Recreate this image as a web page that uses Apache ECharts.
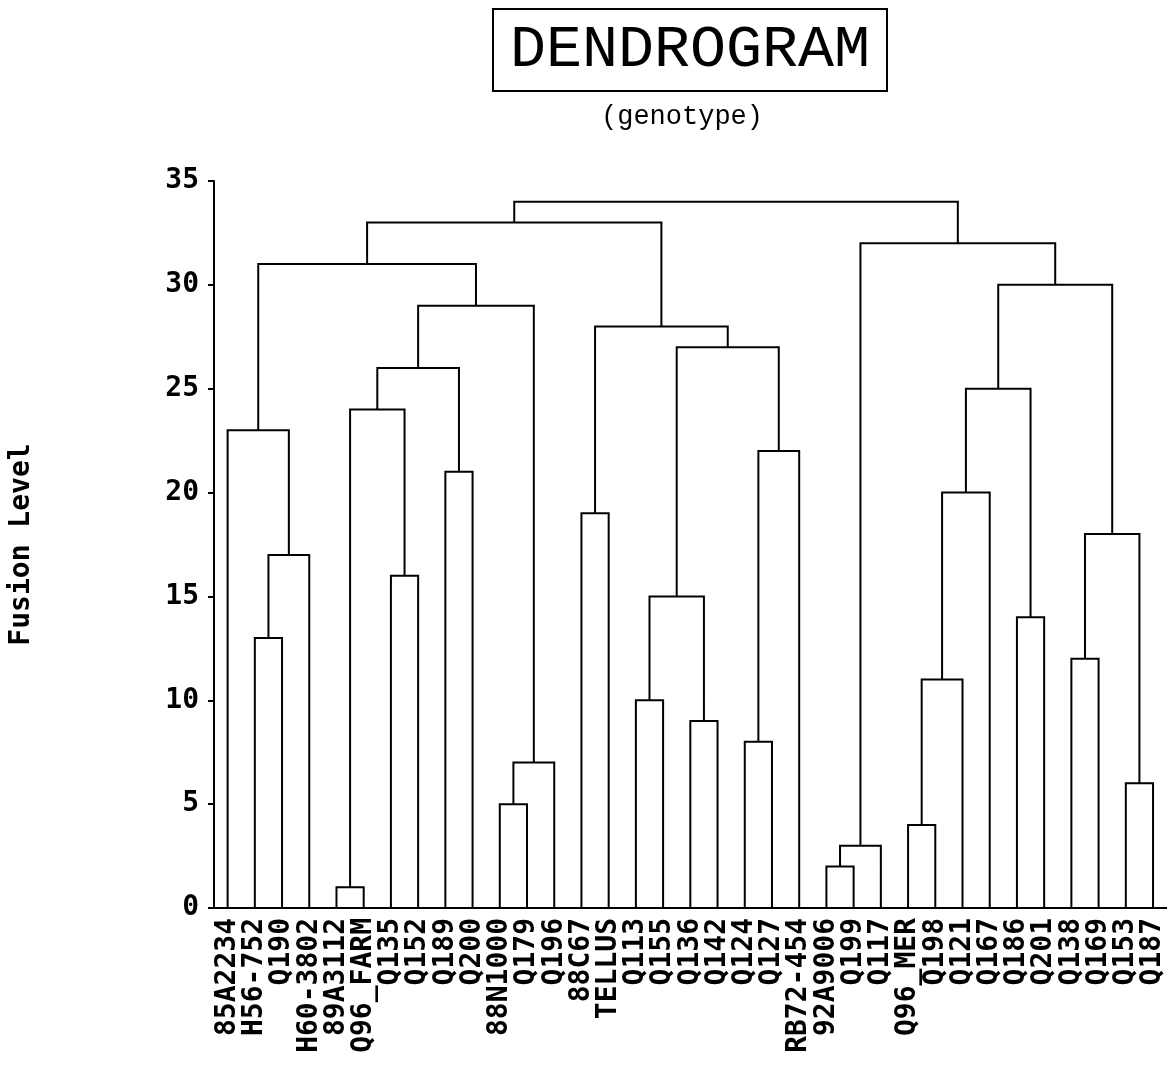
<!DOCTYPE html>
<html>
<head>
<meta charset="utf-8">
<script src="https://cdn.jsdelivr.net/npm/echarts@6/dist/echarts.min.js"></script>
<style>html,body{margin:0;padding:0;background:#fff}#c{width:1167px;height:1084px}</style>
</head>
<body>
<div id="c"></div>
<script>
// Leaf order along the x axis
const leaves = ['85A2234','H56-752','Q190','H60-3802','89A3112','Q96_FARM','Q135','Q152','Q189','Q200',
  '88N1000','Q179','Q196','88C67','TELLUS','Q113','Q155','Q136','Q142','Q124','Q127','RB72-454',
  '92A9006','Q199','Q117','Q96_MER','Q198','Q121','Q167','Q186','Q201','Q138','Q169','Q153','Q187'];

// Merge steps: left child, right child (leaf name or earlier merge 'mN'), fusion level
const mergeLeft  = ['H56-752','m1','85A2234','89A3112','Q135','m4','Q189','m6','88N1000','m9','m8','m3',
  '88C67','Q113','Q136','m14','Q124','m17','m16','m13','m12',
  '92A9006','m22','Q96_MER','m24','m25','Q186','m26','Q138','Q153','m29','m28','m23','m21'];
const mergeRight = ['Q190','H60-3802','m2','Q96_FARM','Q152','m5','Q200','m7','Q179','Q196','m10','m11',
  'TELLUS','Q155','Q142','m15','Q127','RB72-454','m18','m19','m20',
  'Q199','Q117','Q198','Q121','Q167','Q201','m27','Q169','Q187','m30','m31','m32','m33'];
const mergeLevel = [13,17,23,1,16,24,21,26,5,7,29,31,
  19,10,9,15,8,22,27,28,33,
  2,3,4,11,20,14,25,12,6,18,30,32,34];

const yTicks = {min:0, max:35, interval:5};

// Build the link table: [xLeft, xRight, hLeft, hRight, h]
const pos = {}, lvl = {};
leaves.forEach((n,i)=>{pos[n]=i+1; lvl[n]=0;});
const links = [];
mergeLevel.forEach((h,i)=>{
  const a = mergeLeft[i], b = mergeRight[i], id = 'm'+(i+1);
  links.push([pos[a], pos[b], lvl[a], lvl[b], h]);
  pos[id] = (pos[a]+pos[b])/2; lvl[id] = h;
});

const boldMono = {fontFamily:'DejaVu Sans Mono', fontWeight:'bold', fontSize:28, color:'#000'};

const chart = echarts.init(document.getElementById('c'), null, {renderer:'canvas'});
chart.setOption({
  backgroundColor:'#fff',
  animation:false,
  title:[
    {text:'DENDROGRAM', left:493, top:9, padding:[11,17,11,17], borderColor:'#000', borderWidth:2,
     textStyle:{fontFamily:'Liberation Mono', fontWeight:'normal', fontSize:60, color:'#000'}},
    {text:'(genotype)', left:601, top:103, padding:0,
     textStyle:{fontFamily:'Liberation Mono', fontWeight:'normal', fontSize:27, color:'#000'}}
  ],
  grid:{left:212, right:0, top:181, bottom:176},
  xAxis:[
    {type:'category', data:leaves, boundaryGap:true,
     axisLine:{lineStyle:{color:'#000', width:2}},
     axisTick:{alignWithLabel:true, interval:0, length:5, lineStyle:{color:'#000', width:2}},
     axisLabel:Object.assign({interval:0, rotate:90, margin:10}, boldMono),
     splitLine:{show:false}},
    {type:'value', min:0.5, max:35.5, show:false}
  ],
  yAxis:{type:'value', min:yTicks.min, max:yTicks.max, interval:yTicks.interval,
    name:'Fusion Level', nameLocation:'middle', nameGap:178, nameTextStyle:boldMono,
    axisLine:{show:true, lineStyle:{color:'#000', width:2}},
    axisTick:{show:true, length:6, lineStyle:{color:'#000', width:2}},
    axisLabel:Object.assign({margin:15}, boldMono),
    splitLine:{show:false}},
  series:[{
    type:'custom', xAxisIndex:1, yAxisIndex:0,
    data:links,
    encode:{x:[0,1], y:[2,3,4]},
    renderItem:function(params, api){
      const xl=api.value(0), xr=api.value(1), hl=api.value(2), hr=api.value(3), h=api.value(4);
      return {type:'polyline',
        shape:{points:[api.coord([xl,hl]), api.coord([xl,h]), api.coord([xr,h]), api.coord([xr,hr])]},
        style:{stroke:'#000', lineWidth:2, fill:null}};
    }
  }]
});
</script>
</body>
</html>
